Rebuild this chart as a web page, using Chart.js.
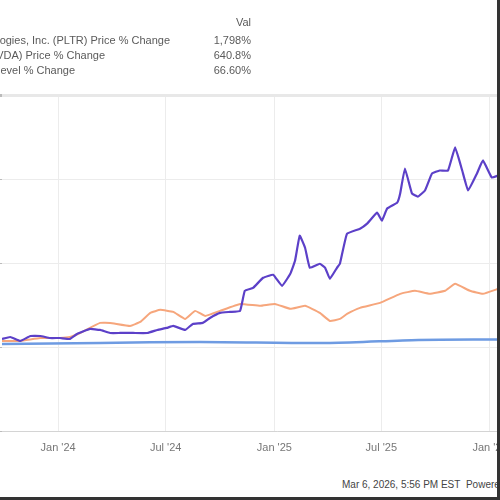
<!DOCTYPE html>
<html>
<head>
<meta charset="utf-8">
<script src="https://cdn.jsdelivr.net/npm/chart.js@4"></script>
<style>
  html, body { margin:0; padding:0; background:#fff; }
  #wrap { position:relative; width:500px; height:500px; overflow:hidden; background:#fff; font-family:"Liberation Sans", Arial, sans-serif; }
  #c { position:absolute; left:-48px; top:0; }
  .lg { position:absolute; white-space:nowrap; font-size:11px; color:#5a5a5a; line-height:14px; }
  .lv { position:absolute; white-space:nowrap; font-size:11px; color:#5a5a5a; line-height:14px; text-align:right; }
  #foot { position:absolute; left:342px; top:479px; font-size:10px; color:#444; white-space:nowrap; }
  #frameR { position:absolute; left:497px; top:0; width:3px; height:500px; background:#333; }
  #frameB { position:absolute; left:0; top:497px; width:500px; height:3px; background:#333; }
</style>
</head>
<body>
<div id="wrap">
  <canvas id="c" width="600" height="470"></canvas>
  <div class="lv" style="right:249px; top:15px;">Val</div>
  <div class="lg" style="right:330px; top:33px;">Palantir Technologies, Inc. (PLTR) Price % Change</div>
  <div class="lv" style="right:249px; top:33px;">1,798%</div>
  <div class="lg" style="right:395px; top:48px;">NVIDIA Corp (NVDA) Price % Change</div>
  <div class="lv" style="right:249px; top:48px;">640.8%</div>
  <div class="lg" style="right:425px; top:63px;">S&amp;P 500 Level % Change</div>
  <div class="lv" style="right:249px; top:63px;">66.60%</div>
  <div id="foot">Mar 6, 2026, 5:56 PM EST&nbsp; Powered by YCharts</div>
  <div id="frameR"></div>
  <div id="frameB"></div>
</div>
<script>
// x values: days since 1 Jan 2024
const xTickDays = [0, 182, 366, 547, 731];
const xTickLabels = ["Jan '24", "Jul '24", "Jan '25", "Jul '25", "Jan '26"];
const yTicks = [-1000, 0, 1000, 2000, 3000];

const pltrDays = [-95,-81,-64,-47,-30,-14,3,20,32,54,71,88,105,127,151,168,184,195,215,228,245,257,274,291,308,316,330,347,364,379,393,401,409,418,426,443,452,460,472,477,489,511,523,540,548,557,574,579,587,599,609,621,633,646,660,672,684,694,709,719,734,745];
const pltrPct  = [96,119,72,131,131,107,107,96,155,215,203,167,167,167,167,203,227,251,203,275,287,346,406,418,430,669,704,824,860,728,872,1027,1325,1182,943,991,943,812,943,991,1349,1409,1469,1600,1504,1648,1719,1827,2125,1827,1791,1863,2066,2101,2101,2376,2101,1863,2066,2221,2018,2042];

const secondDays = [-95,-64,-30,3,20,37,71,88,122,139,156,173,195,215,232,249,274,308,342,367,393,418,443,460,477,489,511,545,579,604,629,655,672,697,719,745];
const secondPct  = [72,72,107,107,119,167,287,287,251,299,406,442,418,334,430,370,430,513,490,513,454,490,406,310,334,394,466,525,633,669,633,669,752,669,633,693];

const spxDays = [-95,71,240,460,610,745];
const spxPct  = [36,48,60,48,84,90];

const toXY = (xs, ys) => xs.map((x, i) => ({ x: x, y: ys[i] }));

Chart.defaults.font.family = "'Liberation Sans', Arial, sans-serif";

new Chart(document.getElementById('c'), {
  type: 'line',
  data: {
    datasets: [
      { label: 'PLTR', data: toXY(pltrDays, pltrPct), borderColor: '#5c40c8', borderWidth: 2.2, pointRadius: 0, tension: 0.1 },
      { label: 'Second', data: toXY(secondDays, secondPct), borderColor: '#f6a67c', borderWidth: 2, pointRadius: 0, tension: 0.1 },
      { label: 'S&P 500', data: toXY(spxDays, spxPct), borderColor: '#6e9be2', borderWidth: 2.5, pointRadius: 0, tension: 0.3 }
    ]
  },
  options: {
    responsive: false,
    animation: false,
    layout: { padding: { top: 95, left: 0, right: 0, bottom: 0 } },
    plugins: { legend: { display: false }, tooltip: { enabled: false } },
    scales: {
      x: {
        type: 'linear',
        min: -95,
        max: 836,
        afterBuildTicks: (s) => { s.ticks = xTickDays.map(v => ({ value: v })); },
        afterFit: (s) => { s.height = 39; },
        ticks: {
          padding: 10,
          color: '#777',
          font: { size: 11 },
          maxRotation: 0,
          autoSkip: false,
          callback: (v) => { const i = xTickDays.indexOf(v); return i >= 0 ? xTickLabels[i] : ''; }
        },
        grid: { color: '#ececec', drawTicks: false },
        border: { color: '#d4d4d4' }
      },
      y: {
        min: -1000,
        max: 3000,
        afterBuildTicks: (s) => { s.ticks = yTicks.map(v => ({ value: v })); },
        afterFit: (s) => { s.width = 50; },
        ticks: { display: false },
        grid: {
          color: (ctx) => ctx.tick && ctx.tick.value === 3000 ? '#e8e8e8' : '#ececec',
          lineWidth: (ctx) => ctx.tick && ctx.tick.value === 3000 ? 3 : 1,
          drawTicks: true,
          tickLength: 6,
          tickColor: '#bbb'
        },
        border: { display: false }
      }
    }
  }
});
</script>
</body>
</html>
